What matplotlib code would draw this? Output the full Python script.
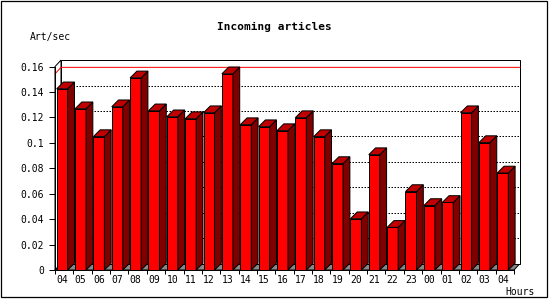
import matplotlib
matplotlib.use("Agg")
import matplotlib.pyplot as plt
from matplotlib.patches import Polygon, Rectangle

# --- data ---
hours = ["04", "05", "06", "07", "08", "09", "10", "11", "12", "13", "14", "15", "16",
         "17", "18", "19", "20", "21", "22", "23", "00", "01", "02", "03", "04"]
art_per_sec = [0.1425, 0.1268, 0.1049, 0.1284, 0.1511, 0.1252, 0.1205, 0.1190, 0.1237,
               0.1543, 0.1143, 0.1127, 0.1096, 0.1198, 0.1049, 0.0837, 0.0403, 0.0907,
               0.0335, 0.0617, 0.0507, 0.0531, 0.1237, 0.1002, 0.0763]
y_ticks = [0, 0.02, 0.04, 0.06, 0.08, 0.10, 0.12, 0.14, 0.16]
y_tick_labels = ["0", "0.02", "0.04", "0.06", "0.08", "0.1", "0.12", "0.14", "0.16"]

plt.rcParams["font.family"] = ["DejaVu Sans Mono"]

W, H = 550, 300
fig = plt.figure(figsize=(W / 100, H / 100), dpi=100)
fig.patch.set_facecolor("white")

# plot area in pixels: x 55..514, y 270 (zero) .. 66.6 (0.16)
ax = fig.add_axes([55 / W, 30 / H, 459 / W, 203.4 / H])
n = len(art_per_sec)
ax.set_xlim(0, n)
ax.set_ylim(0, 0.16)
ax.set_facecolor("none")

# 3d depth offsets (pixels -> data)
px_x = 459 / n
px_y = 203.4 / 0.16
DX = 6 / px_x
DY = 6.5 / px_y
BDX = 6.8 / px_x   # bar depth
BDY = 6.8 / px_y
top = 0.16
lw = 0.72

# floor
floor = Polygon([(0, 0), (n, 0), (n + DX, DY), (DX, DY)], closed=True,
                facecolor="#888888", edgecolor="black", lw=lw, clip_on=False, zorder=1)
ax.add_patch(floor)
# left side plane
side = Polygon([(0, 0), (0, top), (DX, top + DY), (DX, DY)], closed=True,
               facecolor="white", edgecolor="black", lw=lw, clip_on=False, zorder=1)
ax.add_patch(side)
# back plane
back = Rectangle((DX, DY), n, top, facecolor="white", edgecolor="black", lw=lw,
                 clip_on=False, zorder=1)
ax.add_patch(back)

# dotted grid on back plane
for v in y_ticks[1:-1]:
    ax.plot([DX, n + DX], [v + DY, v + DY], color="black", lw=lw,
            linestyle=(0, (1.5, 1.5)), clip_on=False, zorder=1.5)

# max line
vmax = max(art_per_sec)
ax.plot([0, DX, n + DX], [vmax, vmax + DY, vmax + DY], color="red", lw=lw,
        clip_on=False, zorder=1.6)

# bars
bw = 0.6
off = 0.09
xs = [i + off for i in range(n)]
ax.bar(xs, art_per_sec, width=bw, align="edge", color="#ff0000",
       edgecolor="black", linewidth=lw, zorder=3)
for x, v in zip(xs, art_per_sec):
    r = x + bw
    ax.add_patch(Polygon([(r, 0), (r + BDX, BDY), (r + BDX, v + BDY), (r, v)], closed=True,
                         facecolor="#800000", edgecolor="black", lw=lw,
                         clip_on=False, zorder=3))
    ax.add_patch(Polygon([(x, v), (x + BDX, v + BDY), (r + BDX, v + BDY), (r, v)], closed=True,
                         facecolor="#c00000", edgecolor="black", lw=lw,
                         clip_on=False, zorder=3))

# axes / ticks
for s in ["top", "right"]:
    ax.spines[s].set_visible(False)
ax.spines["left"].set_linewidth(lw)
ax.spines["bottom"].set_linewidth(lw)
ax.spines["left"].set_zorder(4)
ax.spines["bottom"].set_zorder(4)
ax.set_yticks(y_ticks)
ax.set_yticklabels(y_tick_labels)
ax.set_xticks(range(n + 1))
ax.set_xticklabels([])
ax.set_xticks([x + bw / 2 for x in xs], minor=True)
ax.set_xticklabels(hours, minor=True)
ax.tick_params(axis="y", length=4, width=lw, pad=4, labelsize=7)
ax.tick_params(axis="x", which="major", length=3, width=lw, direction="out")
ax.tick_params(axis="x", which="minor", length=0, pad=3.5, labelsize=7)

# texts
fig.text(274 / W, 1 - 27 / H, "Incoming articles", ha="center", va="center",
         fontsize=8, fontweight="bold")
fig.text(30 / W, 1 - 37 / H, "Art/sec", ha="left", va="center", fontsize=7)
fig.text(505 / W, 1 - 292 / H, "Hours", ha="left", va="center", fontsize=7)

# outer frame
fig.add_artist(Rectangle((0.5 / W, 3 / H), 546.5 / W, 296.5 / H, transform=fig.transFigure,
                         fill=False, edgecolor="black", lw=0.9))

fig.savefig("out.png", dpi=100)
